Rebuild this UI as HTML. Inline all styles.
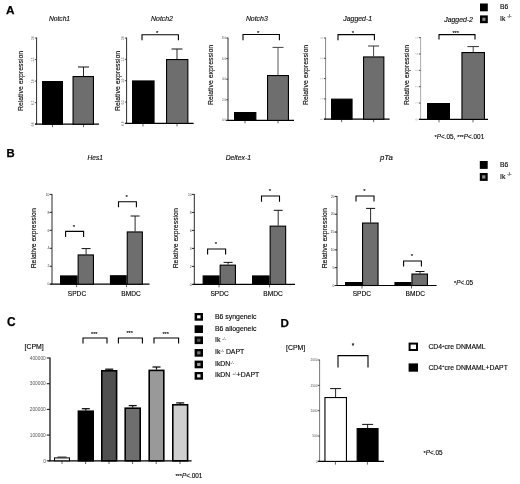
<!DOCTYPE html>
<html lang="en"><head><meta charset="utf-8"><title>Figure</title>
<style>
html,body{margin:0;padding:0;background:#fff;}
body{width:520px;height:484px;overflow:hidden;font-family:"Liberation Sans", Arial, sans-serif;}
svg{display:block;font-family:"Liberation Sans", Arial, sans-serif;filter:blur(0.35px);}
</style></head><body>
<svg width="520" height="484" viewBox="0 0 520 484">
<rect width="520" height="484" fill="#fff"/>

<text x="6.0" y="14.2" font-size="11.8" text-anchor="start" fill="#000" font-weight="bold" stroke="#000" stroke-width="0.25" >A</text>
<text x="6.5" y="157.1" font-size="11.3" text-anchor="start" fill="#000" font-weight="bold" stroke="#000" stroke-width="0.25" >B</text>
<text x="7.0" y="325.9" font-size="11.9" text-anchor="start" fill="#000" font-weight="bold" stroke="#000" stroke-width="0.25" >C</text>
<text x="280.5" y="327.4" font-size="11.6" text-anchor="start" fill="#000" font-weight="bold" stroke="#000" stroke-width="0.25" >D</text>
<text x="59.5" y="21.3" font-size="6.7" text-anchor="middle" fill="#111" font-style="italic" stroke="#000" stroke-width="0.14" >Notch1</text>
<line x1="36.6" y1="37.6" x2="36.6" y2="124.2" stroke="#2a2a2a" stroke-width="1.0"/>
<line x1="35.0" y1="124.2" x2="99" y2="124.2" stroke="#000" stroke-width="1.2"/>
<line x1="34.800000000000004" y1="38.0" x2="36.6" y2="38.0" stroke="#222" stroke-width="0.8"/>
<text transform="translate(34.30,38.00) rotate(-90)" font-size="3.0" text-anchor="middle" fill="#555">2.0</text>
<line x1="34.800000000000004" y1="59.55" x2="36.6" y2="59.55" stroke="#222" stroke-width="0.8"/>
<text transform="translate(34.30,59.55) rotate(-90)" font-size="3.0" text-anchor="middle" fill="#555">1.5</text>
<line x1="34.800000000000004" y1="81.1" x2="36.6" y2="81.1" stroke="#222" stroke-width="0.8"/>
<text transform="translate(34.30,81.10) rotate(-90)" font-size="3.0" text-anchor="middle" fill="#555">1.0</text>
<line x1="34.800000000000004" y1="102.65" x2="36.6" y2="102.65" stroke="#222" stroke-width="0.8"/>
<text transform="translate(34.30,102.65) rotate(-90)" font-size="3.0" text-anchor="middle" fill="#555">0.5</text>
<line x1="34.800000000000004" y1="124.2" x2="36.6" y2="124.2" stroke="#222" stroke-width="0.8"/>
<text transform="translate(34.30,124.20) rotate(-90)" font-size="3.0" text-anchor="middle" fill="#555">0.0</text>
<line x1="52.5" y1="124.2" x2="52.5" y2="127.2" stroke="#222" stroke-width="0.7"/>
<line x1="83.5" y1="124.2" x2="83.5" y2="127.2" stroke="#222" stroke-width="0.7"/>
<text transform="translate(23.2,81) rotate(-90)" font-size="6.9" text-anchor="middle" fill="#000" stroke="#000" stroke-width="0.12">Relative expression</text>
<rect x="42.55" y="81.55" width="19.9" height="42.650000000000006" fill="#000" stroke="#000" stroke-width="1.1"/>
<line x1="83.5" y1="67" x2="83.5" y2="76" stroke="#111" stroke-width="0.9"/>
<line x1="78.0" y1="67" x2="89.0" y2="67" stroke="#111" stroke-width="1.0"/>
<rect x="73.05" y="76.55" width="20.4" height="47.650000000000006" fill="#6e6e6e" stroke="#000" stroke-width="1.1"/>
<text x="162" y="21.3" font-size="6.9" text-anchor="middle" fill="#111" font-style="italic" stroke="#000" stroke-width="0.14" >Notch2</text>
<line x1="126.6" y1="37.6" x2="126.6" y2="123.4" stroke="#2a2a2a" stroke-width="1.0"/>
<line x1="125.0" y1="123.4" x2="193.6" y2="123.4" stroke="#000" stroke-width="1.2"/>
<line x1="124.8" y1="38.0" x2="126.6" y2="38.0" stroke="#222" stroke-width="0.8"/>
<text transform="translate(124.30,38.00) rotate(-90)" font-size="3.0" text-anchor="middle" fill="#555">2.0</text>
<line x1="124.8" y1="59.35" x2="126.6" y2="59.35" stroke="#222" stroke-width="0.8"/>
<text transform="translate(124.30,59.35) rotate(-90)" font-size="3.0" text-anchor="middle" fill="#555">1.5</text>
<line x1="124.8" y1="80.7" x2="126.6" y2="80.7" stroke="#222" stroke-width="0.8"/>
<text transform="translate(124.30,80.70) rotate(-90)" font-size="3.0" text-anchor="middle" fill="#555">1.0</text>
<line x1="124.8" y1="102.05000000000001" x2="126.6" y2="102.05000000000001" stroke="#222" stroke-width="0.8"/>
<text transform="translate(124.30,102.05) rotate(-90)" font-size="3.0" text-anchor="middle" fill="#555">0.5</text>
<line x1="124.8" y1="123.4" x2="126.6" y2="123.4" stroke="#222" stroke-width="0.8"/>
<text transform="translate(124.30,123.40) rotate(-90)" font-size="3.0" text-anchor="middle" fill="#555">0.0</text>
<line x1="143" y1="123.4" x2="143" y2="126.4" stroke="#222" stroke-width="0.7"/>
<line x1="177" y1="123.4" x2="177" y2="126.4" stroke="#222" stroke-width="0.7"/>
<text transform="translate(119.7,81) rotate(-90)" font-size="6.9" text-anchor="middle" fill="#000" stroke="#000" stroke-width="0.12">Relative expression</text>
<rect x="132.55" y="80.95" width="21.499999999999993" height="42.45" fill="#000" stroke="#000" stroke-width="1.1"/>
<line x1="177" y1="49" x2="177" y2="59" stroke="#111" stroke-width="0.9"/>
<line x1="171.5" y1="49" x2="182.5" y2="49" stroke="#111" stroke-width="1.0"/>
<rect x="166.55" y="59.55" width="21.300000000000004" height="63.85000000000001" fill="#6e6e6e" stroke="#000" stroke-width="1.1"/>
<path d="M142,40.2 V34.7 H178.4 V40.2" fill="none" stroke="#000" stroke-width="1.1"/>
<text x="157.2" y="35" font-size="6" text-anchor="middle" fill="#000"   stroke="#000" stroke-width="0.12">*</text>
<text x="256.8" y="21.3" font-size="6.9" text-anchor="middle" fill="#111" font-style="italic" stroke="#000" stroke-width="0.14" >Notch3</text>
<line x1="228" y1="37.6" x2="228" y2="120.4" stroke="#2a2a2a" stroke-width="1.0"/>
<line x1="226.4" y1="120.4" x2="294" y2="120.4" stroke="#000" stroke-width="1.2"/>
<line x1="226.2" y1="38.0" x2="228" y2="38.0" stroke="#222" stroke-width="0.8"/>
<text x="226.0" y="39.044" font-size="2.9" text-anchor="end" fill="#555"  >8.0</text>
<line x1="226.2" y1="58.6" x2="228" y2="58.6" stroke="#222" stroke-width="0.8"/>
<text x="226.0" y="59.644" font-size="2.9" text-anchor="end" fill="#555"  >6.0</text>
<line x1="226.2" y1="79.2" x2="228" y2="79.2" stroke="#222" stroke-width="0.8"/>
<text x="226.0" y="80.244" font-size="2.9" text-anchor="end" fill="#555"  >4.0</text>
<line x1="226.2" y1="99.80000000000001" x2="228" y2="99.80000000000001" stroke="#222" stroke-width="0.8"/>
<text x="226.0" y="100.84400000000001" font-size="2.9" text-anchor="end" fill="#555"  >2.0</text>
<line x1="226.2" y1="120.4" x2="228" y2="120.4" stroke="#222" stroke-width="0.8"/>
<text x="226.0" y="121.444" font-size="2.9" text-anchor="end" fill="#555"  >0.0</text>
<line x1="245" y1="120.4" x2="245" y2="123.4" stroke="#222" stroke-width="0.7"/>
<line x1="278" y1="120.4" x2="278" y2="123.4" stroke="#222" stroke-width="0.7"/>
<text transform="translate(213.3,75) rotate(-90)" font-size="6.9" text-anchor="middle" fill="#000" stroke="#000" stroke-width="0.12">Relative expression</text>
<rect x="234.55" y="112.55" width="21.299999999999976" height="7.850000000000006" fill="#000" stroke="#000" stroke-width="1.1"/>
<line x1="278" y1="47.4" x2="278" y2="75" stroke="#444" stroke-width="0.9"/>
<line x1="272.5" y1="47.4" x2="283.5" y2="47.4" stroke="#444" stroke-width="1.0"/>
<rect x="267.55" y="75.55" width="20.9" height="44.85000000000001" fill="#6e6e6e" stroke="#000" stroke-width="1.1"/>
<path d="M243,40.2 V34.5 H279.4 V40.2" fill="none" stroke="#000" stroke-width="1.1"/>
<text x="258.2" y="34.8" font-size="6" text-anchor="middle" fill="#000"   stroke="#000" stroke-width="0.12">*</text>
<text x="357.7" y="21.3" font-size="6.9" text-anchor="middle" fill="#111" font-style="italic" stroke="#000" stroke-width="0.14" >Jagged-1</text>
<line x1="325.6" y1="37.6" x2="325.6" y2="119.2" stroke="#666" stroke-width="0.8"/>
<line x1="324.0" y1="119.2" x2="389.6" y2="119.2" stroke="#000" stroke-width="1.2"/>
<line x1="323.8" y1="38.0" x2="325.6" y2="38.0" stroke="#222" stroke-width="0.8"/>
<text transform="translate(323.30,38.00) rotate(-90)" font-size="3.0" text-anchor="middle" fill="#aaa">4</text>
<line x1="323.8" y1="58.3" x2="325.6" y2="58.3" stroke="#222" stroke-width="0.8"/>
<text transform="translate(323.30,58.30) rotate(-90)" font-size="3.0" text-anchor="middle" fill="#aaa">3</text>
<line x1="323.8" y1="78.6" x2="325.6" y2="78.6" stroke="#222" stroke-width="0.8"/>
<text transform="translate(323.30,78.60) rotate(-90)" font-size="3.0" text-anchor="middle" fill="#aaa">2</text>
<line x1="323.8" y1="98.9" x2="325.6" y2="98.9" stroke="#222" stroke-width="0.8"/>
<text transform="translate(323.30,98.90) rotate(-90)" font-size="3.0" text-anchor="middle" fill="#aaa">1</text>
<line x1="323.8" y1="119.2" x2="325.6" y2="119.2" stroke="#222" stroke-width="0.8"/>
<text transform="translate(323.30,119.20) rotate(-90)" font-size="3.0" text-anchor="middle" fill="#aaa">0</text>
<line x1="341.6" y1="119.2" x2="341.6" y2="122.2" stroke="#222" stroke-width="0.7"/>
<line x1="373.6" y1="119.2" x2="373.6" y2="122.2" stroke="#222" stroke-width="0.7"/>
<text transform="translate(307.8,75) rotate(-90)" font-size="6.9" text-anchor="middle" fill="#000" stroke="#000" stroke-width="0.12">Relative expression</text>
<rect x="331.55" y="99.14999999999999" width="20.50000000000002" height="20.050000000000008" fill="#000" stroke="#000" stroke-width="1.1"/>
<line x1="373.6" y1="46" x2="373.6" y2="56.4" stroke="#333" stroke-width="0.9"/>
<line x1="368.1" y1="46" x2="379.1" y2="46" stroke="#333" stroke-width="1.0"/>
<rect x="363.55" y="56.949999999999996" width="20.299999999999976" height="62.25000000000001" fill="#6e6e6e" stroke="#000" stroke-width="1.1"/>
<path d="M338,40.2 V34.6 H374.4 V40.2" fill="none" stroke="#000" stroke-width="1.1"/>
<text x="353.0" y="35" font-size="6" text-anchor="middle" fill="#000"   stroke="#000" stroke-width="0.12">*</text>
<text x="458.6" y="21.8" font-size="6.9" text-anchor="middle" fill="#111" font-style="italic" stroke="#000" stroke-width="0.14" >Jagged-2</text>
<line x1="420.6" y1="37.2" x2="420.6" y2="119.4" stroke="#888" stroke-width="0.7"/>
<line x1="419.0" y1="119.4" x2="488" y2="119.4" stroke="#000" stroke-width="1.2"/>
<line x1="418.8" y1="37.6" x2="420.6" y2="37.6" stroke="#222" stroke-width="0.8"/>
<text transform="translate(418.30,37.60) rotate(-90)" font-size="3.0" text-anchor="middle" fill="#aaa">5</text>
<line x1="418.8" y1="53.96000000000001" x2="420.6" y2="53.96000000000001" stroke="#222" stroke-width="0.8"/>
<text transform="translate(418.30,53.96) rotate(-90)" font-size="3.0" text-anchor="middle" fill="#aaa">4</text>
<line x1="418.8" y1="70.32000000000001" x2="420.6" y2="70.32000000000001" stroke="#222" stroke-width="0.8"/>
<text transform="translate(418.30,70.32) rotate(-90)" font-size="3.0" text-anchor="middle" fill="#aaa">3</text>
<line x1="418.8" y1="86.68" x2="420.6" y2="86.68" stroke="#222" stroke-width="0.8"/>
<text transform="translate(418.30,86.68) rotate(-90)" font-size="3.0" text-anchor="middle" fill="#aaa">2</text>
<line x1="418.8" y1="103.04000000000002" x2="420.6" y2="103.04000000000002" stroke="#222" stroke-width="0.8"/>
<text transform="translate(418.30,103.04) rotate(-90)" font-size="3.0" text-anchor="middle" fill="#aaa">1</text>
<line x1="418.8" y1="119.4" x2="420.6" y2="119.4" stroke="#222" stroke-width="0.8"/>
<text transform="translate(418.30,119.40) rotate(-90)" font-size="3.0" text-anchor="middle" fill="#aaa">0</text>
<line x1="439" y1="119.4" x2="439" y2="122.4" stroke="#222" stroke-width="0.7"/>
<line x1="473" y1="119.4" x2="473" y2="122.4" stroke="#222" stroke-width="0.7"/>
<text transform="translate(409.3,75) rotate(-90)" font-size="6.9" text-anchor="middle" fill="#000" stroke="#000" stroke-width="0.12">Relative expression</text>
<rect x="427.55" y="103.55" width="21.9" height="15.850000000000005" fill="#000" stroke="#000" stroke-width="1.1"/>
<line x1="473.2" y1="46.6" x2="473.2" y2="52" stroke="#333" stroke-width="0.9"/>
<line x1="467.45" y1="46.6" x2="478.95" y2="46.6" stroke="#333" stroke-width="1.0"/>
<rect x="461.95" y="52.55" width="22.50000000000002" height="66.85000000000001" fill="#6e6e6e" stroke="#000" stroke-width="1.1"/>
<path d="M439,39.6 V34.6 H475 V39.6" fill="none" stroke="#000" stroke-width="1.1"/>
<text x="455.6" y="34.6" font-size="5.5" text-anchor="middle" fill="#000"   stroke="#000" stroke-width="0.12">***</text>
<rect x="480" y="3.5" width="7.8" height="7.8" fill="#000"/>
<rect x="480" y="15.4" width="7.8" height="7.8" fill="#000"/>
<rect x="482.3" y="17.7" width="3.2" height="3.2" fill="#8a8a8a"/>
<text x="500" y="8.9" font-size="6.8" text-anchor="start" fill="#000"   stroke="#000" stroke-width="0.12">B6</text>
<text x="500" y="20.8" font-size="6.8" fill="#000" stroke="#000" stroke-width="0.12">Ik <tspan font-size="4.5" dy="-2.5">-/-</tspan></text>
<text x="434.6" y="139.2" font-size="6.4" fill="#000" stroke="#000" stroke-width="0.12"><tspan font-size="5.6" dy="-0.5">*</tspan><tspan font-style="italic" dy="0.5">P</tspan>&lt;.05, <tspan font-size="5.6" dy="-0.5">***</tspan><tspan font-style="italic" dy="0.5">P</tspan>&lt;.001</text>
<text x="95.3" y="160.2" font-size="6.6" text-anchor="middle" fill="#111" font-style="italic" stroke="#000" stroke-width="0.14" >Hes1</text>
<line x1="52" y1="194.0" x2="52" y2="284.2" stroke="#2a2a2a" stroke-width="1.0"/>
<line x1="50.4" y1="284.2" x2="149.5" y2="284.2" stroke="#000" stroke-width="1.2"/>
<line x1="49.6" y1="194.4" x2="52" y2="194.4" stroke="#222" stroke-width="1.0"/>
<text x="49.4" y="195.588" font-size="3.3" text-anchor="end" fill="#444"  >10</text>
<line x1="49.6" y1="212.36" x2="52" y2="212.36" stroke="#222" stroke-width="1.0"/>
<text x="49.4" y="213.548" font-size="3.3" text-anchor="end" fill="#444"  >8</text>
<line x1="49.6" y1="230.32" x2="52" y2="230.32" stroke="#222" stroke-width="1.0"/>
<text x="49.4" y="231.50799999999998" font-size="3.3" text-anchor="end" fill="#444"  >6</text>
<line x1="49.6" y1="248.28" x2="52" y2="248.28" stroke="#222" stroke-width="1.0"/>
<text x="49.4" y="249.468" font-size="3.3" text-anchor="end" fill="#444"  >4</text>
<line x1="49.6" y1="266.24" x2="52" y2="266.24" stroke="#222" stroke-width="1.0"/>
<text x="49.4" y="267.428" font-size="3.3" text-anchor="end" fill="#444"  >2</text>
<line x1="49.6" y1="284.2" x2="52" y2="284.2" stroke="#222" stroke-width="1.0"/>
<text x="49.4" y="285.388" font-size="3.3" text-anchor="end" fill="#444"  >0</text>
<line x1="76.6" y1="284.2" x2="76.6" y2="287.2" stroke="#222" stroke-width="0.7"/>
<line x1="126.5" y1="284.2" x2="126.5" y2="287.2" stroke="#222" stroke-width="0.7"/>
<text transform="translate(36.2,238.3) rotate(-90)" font-size="6.9" text-anchor="middle" fill="#000" stroke="#000" stroke-width="0.12">Relative expression</text>
<rect x="60.55" y="275.95" width="16.499999999999993" height="8.25000000000001" fill="#000" stroke="#000" stroke-width="1.1"/>
<line x1="86.1" y1="248.6" x2="86.1" y2="254.4" stroke="#111" stroke-width="0.9"/>
<line x1="81.6" y1="248.6" x2="90.6" y2="248.6" stroke="#111" stroke-width="1.0"/>
<rect x="78.14999999999999" y="254.95000000000002" width="15.300000000000006" height="29.249999999999982" fill="#6e6e6e" stroke="#000" stroke-width="1.1"/>
<path d="M65.6,237 V231.4 H83.6 V237" fill="none" stroke="#000" stroke-width="1.1"/>
<text x="73.89999999999999" y="228.70000000000002" font-size="6" text-anchor="middle" fill="#000"   stroke="#000" stroke-width="0.12">*</text>
<text x="77" y="295.6" font-size="6.6" text-anchor="middle" fill="#000"   stroke="#000" stroke-width="0.12">SPDC</text>
<rect x="110.45" y="275.75" width="15.699999999999998" height="8.45" fill="#000" stroke="#000" stroke-width="1.1"/>
<line x1="135.10000000000002" y1="216" x2="135.10000000000002" y2="231.4" stroke="#111" stroke-width="0.9"/>
<line x1="130.60000000000002" y1="216" x2="139.60000000000002" y2="216" stroke="#111" stroke-width="1.0"/>
<rect x="127.25" y="231.95000000000002" width="15.100000000000003" height="52.249999999999986" fill="#6e6e6e" stroke="#000" stroke-width="1.1"/>
<path d="M118.5,207.3 V201.8 H136.4 V207.3" fill="none" stroke="#000" stroke-width="1.1"/>
<text x="126.75" y="199.10000000000002" font-size="6" text-anchor="middle" fill="#000"   stroke="#000" stroke-width="0.12">*</text>
<text x="131" y="295.6" font-size="6.6" text-anchor="middle" fill="#000"   stroke="#000" stroke-width="0.12">BMDC</text>
<text x="238.3" y="160.2" font-size="6.8" text-anchor="middle" fill="#111" font-style="italic" stroke="#000" stroke-width="0.14" >Deltex-1</text>
<line x1="194.3" y1="194.0" x2="194.3" y2="284.4" stroke="#2a2a2a" stroke-width="1.0"/>
<line x1="192.70000000000002" y1="284.4" x2="295" y2="284.4" stroke="#000" stroke-width="1.2"/>
<line x1="191.9" y1="194.4" x2="194.3" y2="194.4" stroke="#222" stroke-width="1.0"/>
<text x="191.70000000000002" y="195.588" font-size="3.3" text-anchor="end" fill="#444"  >10</text>
<line x1="191.9" y1="212.4" x2="194.3" y2="212.4" stroke="#222" stroke-width="1.0"/>
<text x="191.70000000000002" y="213.588" font-size="3.3" text-anchor="end" fill="#444"  >8</text>
<line x1="191.9" y1="230.39999999999998" x2="194.3" y2="230.39999999999998" stroke="#222" stroke-width="1.0"/>
<text x="191.70000000000002" y="231.58799999999997" font-size="3.3" text-anchor="end" fill="#444"  >6</text>
<line x1="191.9" y1="248.39999999999998" x2="194.3" y2="248.39999999999998" stroke="#222" stroke-width="1.0"/>
<text x="191.70000000000002" y="249.58799999999997" font-size="3.3" text-anchor="end" fill="#444"  >4</text>
<line x1="191.9" y1="266.4" x2="194.3" y2="266.4" stroke="#222" stroke-width="1.0"/>
<text x="191.70000000000002" y="267.58799999999997" font-size="3.3" text-anchor="end" fill="#444"  >2</text>
<line x1="191.9" y1="284.4" x2="194.3" y2="284.4" stroke="#222" stroke-width="1.0"/>
<text x="191.70000000000002" y="285.58799999999997" font-size="3.3" text-anchor="end" fill="#444"  >0</text>
<line x1="219" y1="284.4" x2="219" y2="287.4" stroke="#222" stroke-width="0.7"/>
<line x1="269.5" y1="284.4" x2="269.5" y2="287.4" stroke="#222" stroke-width="0.7"/>
<text transform="translate(177.6,238.3) rotate(-90)" font-size="6.9" text-anchor="middle" fill="#000" stroke="#000" stroke-width="0.12">Relative expression</text>
<rect x="203.15" y="275.95" width="15.9" height="8.45" fill="#000" stroke="#000" stroke-width="1.1"/>
<line x1="228.10000000000002" y1="262.4" x2="228.10000000000002" y2="264.6" stroke="#111" stroke-width="0.9"/>
<line x1="223.60000000000002" y1="262.4" x2="232.60000000000002" y2="262.4" stroke="#111" stroke-width="1.0"/>
<rect x="220.15" y="265.15000000000003" width="15.300000000000006" height="19.249999999999954" fill="#6e6e6e" stroke="#000" stroke-width="1.1"/>
<path d="M207.6,254.4 V249 H225.6 V254.4" fill="none" stroke="#000" stroke-width="1.1"/>
<text x="215.9" y="246.3" font-size="6" text-anchor="middle" fill="#000"   stroke="#000" stroke-width="0.12">*</text>
<text x="219.6" y="295.6" font-size="6.6" text-anchor="middle" fill="#000"   stroke="#000" stroke-width="0.12">SPDC</text>
<rect x="252.55" y="275.95" width="16.50000000000002" height="8.45" fill="#000" stroke="#000" stroke-width="1.1"/>
<line x1="278.2" y1="210.3" x2="278.2" y2="225.6" stroke="#111" stroke-width="0.9"/>
<line x1="273.7" y1="210.3" x2="282.7" y2="210.3" stroke="#111" stroke-width="1.0"/>
<rect x="270.15000000000003" y="226.15" width="15.499999999999966" height="58.249999999999986" fill="#6e6e6e" stroke="#000" stroke-width="1.1"/>
<path d="M261.5,201.7 V196 H279.5 V201.7" fill="none" stroke="#000" stroke-width="1.1"/>
<text x="269.8" y="193.3" font-size="6" text-anchor="middle" fill="#000"   stroke="#000" stroke-width="0.12">*</text>
<text x="273" y="295.6" font-size="6.6" text-anchor="middle" fill="#000"   stroke="#000" stroke-width="0.12">BMDC</text>
<text x="386.4" y="160" font-size="7.8" text-anchor="middle" fill="#111" font-style="italic" stroke="#000" stroke-width="0.14" >pTa</text>
<line x1="337" y1="196.0" x2="337" y2="285.5" stroke="#2a2a2a" stroke-width="1.0"/>
<line x1="335.4" y1="285.5" x2="436.6" y2="285.5" stroke="#000" stroke-width="1.2"/>
<line x1="334.6" y1="196.4" x2="337" y2="196.4" stroke="#222" stroke-width="1.0"/>
<text x="334.40000000000003" y="197.588" font-size="3.3" text-anchor="end" fill="#444"  >25</text>
<line x1="334.6" y1="214.22" x2="337" y2="214.22" stroke="#222" stroke-width="1.0"/>
<text x="334.40000000000003" y="215.408" font-size="3.3" text-anchor="end" fill="#444"  >20</text>
<line x1="334.6" y1="232.04000000000002" x2="337" y2="232.04000000000002" stroke="#222" stroke-width="1.0"/>
<text x="334.40000000000003" y="233.228" font-size="3.3" text-anchor="end" fill="#444"  >15</text>
<line x1="334.6" y1="249.86" x2="337" y2="249.86" stroke="#222" stroke-width="1.0"/>
<text x="334.40000000000003" y="251.048" font-size="3.3" text-anchor="end" fill="#444"  >10</text>
<line x1="334.6" y1="267.68" x2="337" y2="267.68" stroke="#222" stroke-width="1.0"/>
<text x="334.40000000000003" y="268.868" font-size="3.3" text-anchor="end" fill="#444"  >5</text>
<line x1="334.6" y1="285.5" x2="337" y2="285.5" stroke="#222" stroke-width="1.0"/>
<text x="334.40000000000003" y="286.688" font-size="3.3" text-anchor="end" fill="#444"  >0</text>
<line x1="362" y1="285.5" x2="362" y2="288.5" stroke="#222" stroke-width="0.7"/>
<line x1="411.5" y1="285.5" x2="411.5" y2="288.5" stroke="#222" stroke-width="0.7"/>
<text transform="translate(326.5,238.3) rotate(-90)" font-size="6.9" text-anchor="middle" fill="#000" stroke="#000" stroke-width="0.12">Relative expression</text>
<rect x="345.55" y="282.55" width="15.9" height="2.95" fill="#000" stroke="#000" stroke-width="1.1"/>
<line x1="370.6" y1="208.4" x2="370.6" y2="222.5" stroke="#111" stroke-width="0.9"/>
<line x1="366.1" y1="208.4" x2="375.1" y2="208.4" stroke="#111" stroke-width="1.0"/>
<rect x="362.55" y="223.05" width="15.500000000000023" height="62.45" fill="#6e6e6e" stroke="#000" stroke-width="1.1"/>
<path d="M356,201.4 V196 H374 V201.4" fill="none" stroke="#000" stroke-width="1.1"/>
<text x="364.3" y="193.3" font-size="6" text-anchor="middle" fill="#000"   stroke="#000" stroke-width="0.12">*</text>
<text x="361.8" y="295.6" font-size="6.6" text-anchor="middle" fill="#000"   stroke="#000" stroke-width="0.12">SPDC</text>
<rect x="394.95" y="282.55" width="15.9" height="2.95" fill="#000" stroke="#000" stroke-width="1.1"/>
<line x1="420.0" y1="271.5" x2="420.0" y2="273.5" stroke="#111" stroke-width="0.9"/>
<line x1="415.5" y1="271.5" x2="424.5" y2="271.5" stroke="#111" stroke-width="1.0"/>
<rect x="411.95" y="274.05" width="15.500000000000023" height="11.45" fill="#6e6e6e" stroke="#000" stroke-width="1.1"/>
<path d="M403.6,266.6 V261 H421.4 V266.6" fill="none" stroke="#000" stroke-width="1.1"/>
<text x="411.8" y="258.3" font-size="6" text-anchor="middle" fill="#000"   stroke="#000" stroke-width="0.12">*</text>
<text x="415.3" y="295.6" font-size="6.6" text-anchor="middle" fill="#000"   stroke="#000" stroke-width="0.12">BMDC</text>
<rect x="479.8" y="161" width="7.9" height="7.9" fill="#000"/>
<rect x="479.8" y="173" width="7.9" height="7.9" fill="#000"/>
<rect x="482.1" y="175.3" width="3.3000000000000007" height="3.3000000000000007" fill="#8a8a8a"/>
<text x="500" y="166.6" font-size="6.8" text-anchor="start" fill="#000"   stroke="#000" stroke-width="0.12">B6</text>
<text x="500" y="178.6" font-size="6.8" fill="#000" stroke="#000" stroke-width="0.12">Ik <tspan font-size="4.5" dy="-2.5">-/-</tspan></text>
<text x="454" y="285.4" font-size="6.4" fill="#000" stroke="#000" stroke-width="0.12"><tspan font-size="5.6" dy="-0.5">*</tspan><tspan font-style="italic" dy="0.5">P</tspan>&lt;.05</text>
<text x="24.6" y="348.7" font-size="6.9" text-anchor="start" fill="#000"   stroke="#000" stroke-width="0.12">[CPM]</text>
<line x1="50" y1="357.6" x2="50" y2="460.8" stroke="#000" stroke-width="1.2"/>
<line x1="48.4" y1="460.8" x2="191.6" y2="460.8" stroke="#000" stroke-width="1.2"/>
<line x1="46.8" y1="358.0" x2="50" y2="358.0" stroke="#222" stroke-width="1.1"/>
<text x="45.8" y="359.728" font-size="4.8" text-anchor="end" fill="#555"  >400000</text>
<line x1="46.8" y1="383.7" x2="50" y2="383.7" stroke="#222" stroke-width="1.1"/>
<text x="45.8" y="385.428" font-size="4.8" text-anchor="end" fill="#555"  >300000</text>
<line x1="46.8" y1="409.4" x2="50" y2="409.4" stroke="#222" stroke-width="1.1"/>
<text x="45.8" y="411.128" font-size="4.8" text-anchor="end" fill="#555"  >200000</text>
<line x1="46.8" y1="435.1" x2="50" y2="435.1" stroke="#222" stroke-width="1.1"/>
<text x="45.8" y="436.82800000000003" font-size="4.8" text-anchor="end" fill="#555"  >100000</text>
<line x1="46.8" y1="460.8" x2="50" y2="460.8" stroke="#222" stroke-width="1.1"/>
<text x="45.8" y="462.528" font-size="4.8" text-anchor="end" fill="#555"  >0</text>
<line x1="62" y1="460.8" x2="62" y2="464.0" stroke="#222" stroke-width="0.7"/>
<line x1="85.6" y1="460.8" x2="85.6" y2="464.0" stroke="#222" stroke-width="0.7"/>
<line x1="109" y1="460.8" x2="109" y2="464.0" stroke="#222" stroke-width="0.7"/>
<line x1="132.6" y1="460.8" x2="132.6" y2="464.0" stroke="#222" stroke-width="0.7"/>
<line x1="156.2" y1="460.8" x2="156.2" y2="464.0" stroke="#222" stroke-width="0.7"/>
<line x1="180" y1="460.8" x2="180" y2="464.0" stroke="#222" stroke-width="0.7"/>
<line x1="57.5" y1="457.0" x2="66.5" y2="457.0" stroke="#222" stroke-width="0.9"/>
<rect x="54.5" y="457.9" width="15.0" height="2.900000000000034" fill="#f4f4f4" stroke="#000" stroke-width="1.0"/>
<line x1="85.8" y1="408.7" x2="85.8" y2="410.4" stroke="#111" stroke-width="1.2"/>
<line x1="81.8" y1="408.7" x2="89.8" y2="408.7" stroke="#111" stroke-width="1.3"/>
<rect x="78.39999999999999" y="411.2" width="14.800000000000006" height="49.60000000000004" fill="#000" stroke="#000" stroke-width="1.6"/>
<line x1="109.2" y1="369.2" x2="109.2" y2="370" stroke="#111" stroke-width="1.2"/>
<line x1="105.2" y1="369.2" x2="113.2" y2="369.2" stroke="#111" stroke-width="1.3"/>
<rect x="101.8" y="370.8" width="14.800000000000006" height="90.00000000000001" fill="#505050" stroke="#000" stroke-width="1.6"/>
<line x1="132.7" y1="405.6" x2="132.7" y2="407.4" stroke="#111" stroke-width="1.2"/>
<line x1="128.7" y1="405.6" x2="136.7" y2="405.6" stroke="#111" stroke-width="1.3"/>
<rect x="125.2" y="408.2" width="14.999999999999995" height="52.60000000000004" fill="#6e6e6e" stroke="#000" stroke-width="1.6"/>
<line x1="156.5" y1="367" x2="156.5" y2="369.6" stroke="#111" stroke-width="1.2"/>
<line x1="152.5" y1="367" x2="160.5" y2="367" stroke="#111" stroke-width="1.3"/>
<rect x="149.20000000000002" y="370.40000000000003" width="14.599999999999989" height="90.39999999999999" fill="#999" stroke="#000" stroke-width="1.6"/>
<line x1="180.2" y1="402.9" x2="180.2" y2="404" stroke="#111" stroke-width="1.2"/>
<line x1="176.2" y1="402.9" x2="184.2" y2="402.9" stroke="#111" stroke-width="1.3"/>
<rect x="172.8" y="404.8" width="14.800000000000006" height="56.000000000000014" fill="#cfcfcf" stroke="#000" stroke-width="1.6"/>
<path d="M83,343.6 V338 H107 V343.6" fill="none" stroke="#000" stroke-width="1.1"/>
<text x="94.3" y="336.2" font-size="5.5" text-anchor="middle" fill="#000"   stroke="#000" stroke-width="0.12">***</text>
<path d="M118.4,343.6 V338 H142.4 V343.6" fill="none" stroke="#000" stroke-width="1.1"/>
<text x="129.70000000000002" y="335.4" font-size="5.5" text-anchor="middle" fill="#000"   stroke="#000" stroke-width="0.12">***</text>
<path d="M154,343.6 V338 H178.6 V343.6" fill="none" stroke="#000" stroke-width="1.1"/>
<text x="165.60000000000002" y="336.2" font-size="5.5" text-anchor="middle" fill="#000"   stroke="#000" stroke-width="0.12">***</text>
<rect x="194.6" y="313" width="8.4" height="7.7" fill="#000"/>
<rect x="197.1" y="315.3" width="3.4" height="3.1" fill="#fff"/>
<rect x="194.6" y="325.3" width="8.4" height="7.7" fill="#000"/>
<rect x="194.6" y="336.4" width="8.4" height="7.7" fill="#000"/>
<rect x="197.1" y="338.7" width="3.4" height="3.1" fill="#555"/>
<rect x="194.6" y="349" width="8.4" height="7.7" fill="#000"/>
<rect x="197.1" y="351.3" width="3.4" height="3.1" fill="#777"/>
<rect x="194.6" y="360.6" width="8.4" height="7.7" fill="#000"/>
<rect x="197.1" y="362.90000000000003" width="3.4" height="3.1" fill="#999"/>
<rect x="194.6" y="372" width="8.4" height="7.7" fill="#000"/>
<rect x="197.1" y="374.3" width="3.4" height="3.1" fill="#e8e8e8"/>
<text x="215" y="319" font-size="6.9" fill="#000" stroke="#000" stroke-width="0.12">B6 syngeneic</text>
<text x="215" y="331" font-size="6.9" fill="#000" stroke="#000" stroke-width="0.12">B6 allogeneic</text>
<text x="215" y="342.2" font-size="6.9" fill="#000" stroke="#000" stroke-width="0.12">Ik <tspan font-size="3.8" dy="-2.4" fill="#333" stroke="none">-/-</tspan></text>
<text x="215" y="354.4" font-size="6.9" fill="#000" stroke="#000" stroke-width="0.12">Ik<tspan font-size="3.8" dy="-2.4" fill="#333" stroke="none">-/-</tspan><tspan dy="2.4"> DAPT</tspan></text>
<text x="215" y="366" font-size="6.9" fill="#000" stroke="#000" stroke-width="0.12">IkDN<tspan font-size="3.8" dy="-2.4" fill="#333" stroke="none">-/-</tspan></text>
<text x="215" y="377.4" font-size="6.9" fill="#000" stroke="#000" stroke-width="0.12">IkDN <tspan font-size="3.8" dy="-2.4" fill="#333" stroke="none">+/-</tspan><tspan dy="2.4">+DAPT</tspan></text>
<text x="175.4" y="478.4" font-size="6.4" fill="#000" stroke="#000" stroke-width="0.12"><tspan font-size="5.6" dy="-0.5">***</tspan><tspan font-style="italic" dy="0.5">P</tspan>&lt;.001</text>
<text x="286" y="349.8" font-size="6.9" text-anchor="start" fill="#000"   stroke="#000" stroke-width="0.12">[CPM]</text>
<line x1="319.6" y1="359.6" x2="319.6" y2="461.4" stroke="#555" stroke-width="0.8"/>
<line x1="318.0" y1="461.4" x2="384" y2="461.4" stroke="#000" stroke-width="1.2"/>
<line x1="317.8" y1="360.0" x2="319.6" y2="360.0" stroke="#222" stroke-width="0.8"/>
<text x="317.6" y="361.152" font-size="3.2" text-anchor="end" fill="#555"  >2000</text>
<line x1="317.8" y1="385.35" x2="319.6" y2="385.35" stroke="#222" stroke-width="0.8"/>
<text x="317.6" y="386.502" font-size="3.2" text-anchor="end" fill="#555"  >1500</text>
<line x1="317.8" y1="410.7" x2="319.6" y2="410.7" stroke="#222" stroke-width="0.8"/>
<text x="317.6" y="411.852" font-size="3.2" text-anchor="end" fill="#555"  >1000</text>
<line x1="317.8" y1="436.04999999999995" x2="319.6" y2="436.04999999999995" stroke="#222" stroke-width="0.8"/>
<text x="317.6" y="437.20199999999994" font-size="3.2" text-anchor="end" fill="#555"  >500</text>
<line x1="317.8" y1="461.4" x2="319.6" y2="461.4" stroke="#222" stroke-width="0.8"/>
<text x="317.6" y="462.55199999999996" font-size="3.2" text-anchor="end" fill="#555"  >0</text>
<line x1="335.4" y1="461.4" x2="335.4" y2="464.59999999999997" stroke="#222" stroke-width="0.7"/>
<line x1="367.4" y1="461.4" x2="367.4" y2="464.59999999999997" stroke="#222" stroke-width="0.7"/>
<line x1="335.6" y1="388.6" x2="335.6" y2="397" stroke="#111" stroke-width="0.9"/>
<line x1="330.1" y1="388.6" x2="341.1" y2="388.6" stroke="#111" stroke-width="1.0"/>
<rect x="324.95" y="397.55" width="21.50000000000002" height="63.84999999999998" fill="#fff" stroke="#000" stroke-width="1.1"/>
<line x1="367.6" y1="424.4" x2="367.6" y2="428" stroke="#111" stroke-width="0.9"/>
<line x1="362.1" y1="424.4" x2="373.1" y2="424.4" stroke="#111" stroke-width="1.0"/>
<rect x="357.15000000000003" y="428.55" width="20.9" height="32.84999999999998" fill="#000" stroke="#000" stroke-width="1.1"/>
<path d="M338,367.6 V355.6 H368 V367.6" fill="none" stroke="#000" stroke-width="1.1"/>
<text x="353.0" y="347.9" font-size="6.5" text-anchor="middle" fill="#000"   stroke="#000" stroke-width="0.12">*</text>
<rect x="409.6" y="343.6" width="7.4" height="6.4" fill="#fff" stroke="#000" stroke-width="2"/>
<rect x="408.6" y="363.4" width="9.4" height="8.3" fill="#000"/>
<text x="428.4" y="349" font-size="6.85" fill="#000" stroke="#000" stroke-width="0.12">CD4<tspan font-size="4.2" dy="-2.4">+</tspan><tspan dy="2.4">cre DNMAML</tspan></text>
<text x="428.4" y="369.7" font-size="6.85" fill="#000" stroke="#000" stroke-width="0.12">CD4<tspan font-size="4.2" dy="-2.4">+</tspan><tspan dy="2.4">cre DNMAML+DAPT</tspan></text>
<text x="423.6" y="455" font-size="6.4" fill="#000" stroke="#000" stroke-width="0.12"><tspan font-size="5.6" dy="-0.5">*</tspan><tspan font-style="italic" dy="0.5">P</tspan>&lt;.05</text>
</svg>
</body></html>
